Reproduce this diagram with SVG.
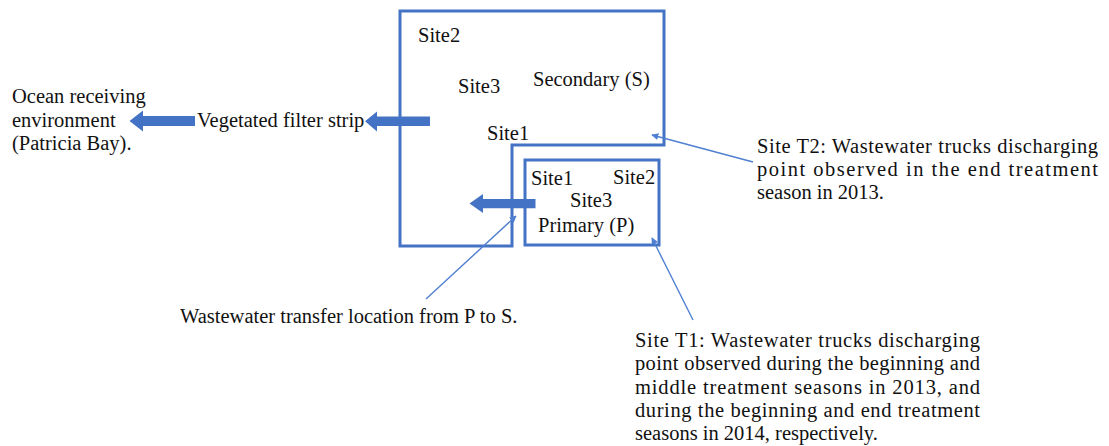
<svg xmlns="http://www.w3.org/2000/svg" width="1109" height="446" viewBox="0 0 1109 446">
  <style>
    .lbl { font-family: "Liberation Serif", "Times New Roman", serif; font-size: 20.5px; fill: #111; }
    .box { fill: none; stroke: #4472C4; stroke-width: 3; }
    .flow { fill: #4472C4; }
    .lead { stroke: #4F7FD0; stroke-width: 1.4; fill: none; marker-end: url(#tip); }
  </style>
  <defs>
    <marker id="tip" viewBox="0 0 10 10" refX="9" refY="5" markerWidth="7" markerHeight="7" markerUnits="userSpaceOnUse" orient="auto">
      <path d="M0,0 L10,5 L0,10 z" fill="#4F7FD0"/>
    </marker>
  </defs>

  <!-- Secondary treatment area (L-shaped outline) -->
  <g id="secondary">
    <polygon class="box" points="400,11 664,11 664,145 512,145 512,246 400,246"/>
    <text class="lbl" x="418" y="42">Site2</text>
    <text class="lbl" x="458" y="93">Site3</text>
    <text class="lbl" x="533" y="86">Secondary (S)</text>
    <text class="lbl" x="487" y="140">Site1</text>
  </g>

  <!-- Primary treatment area -->
  <g id="primary">
    <rect class="box" x="525" y="160" width="134" height="85"/>
    <text class="lbl" x="531" y="185">Site1</text>
    <text class="lbl" x="613" y="184">Site2</text>
    <text class="lbl" x="570" y="207">Site3</text>
    <text class="lbl" x="538" y="232">Primary (P)</text>
  </g>

  <!-- Downstream labels -->
  <g id="filter-strip">
    <text class="lbl" x="197" y="127">Vegetated filter strip</text>
  </g>
  <g id="ocean">
    <text class="lbl" x="12" y="103">Ocean receiving</text>
    <text class="lbl" x="12" y="127">environment</text>
    <text class="lbl" x="12" y="150">(Patricia Bay).</text>
  </g>

  <!-- Callout texts -->
  <g id="transfer-note">
    <text class="lbl" x="180" y="323">Wastewater transfer location from P to S.</text>
  </g>
  <g id="t2-note">
    <text class="lbl" x="757" y="153" textLength="341" lengthAdjust="spacing">Site T2: Wastewater trucks discharging</text>
    <text class="lbl" x="757" y="176" textLength="341" lengthAdjust="spacing">point observed in the end treatment</text>
    <text class="lbl" x="757" y="199">season in 2013.</text>
  </g>
  <g id="t1-note">
    <text class="lbl" x="635" y="347" textLength="345" lengthAdjust="spacing">Site T1: Wastewater trucks discharging</text>
    <text class="lbl" x="635" y="370" textLength="345" lengthAdjust="spacing">point observed during the beginning and</text>
    <text class="lbl" x="635" y="394" textLength="345" lengthAdjust="spacing">middle treatment seasons in 2013, and</text>
    <text class="lbl" x="635" y="417" textLength="345" lengthAdjust="spacing">during the beginning and end treatment</text>
    <text class="lbl" x="635" y="440">seasons in 2014, respectively.</text>
  </g>

  <!-- Connectors: block flow arrows and callout leaders -->
  <g id="connectors">
    <path class="flow" d="M195,116 L143,116 L143,110.5 L129.5,121 L143,131.5 L143,126 L195,126 z"/>
    <path class="flow" d="M430,116.5 L377,116.5 L377,111.5 L365,121.3 L377,131.5 L377,126 L430,126 z"/>
    <path class="flow" d="M535.5,199 L483,199 L483,194 L469.5,203.6 L483,213 L483,208.3 L535.5,208.3 z"/>
    <line class="lead" x1="753" y1="162" x2="652" y2="135"/>
    <line class="lead" x1="693" y1="320" x2="652" y2="238"/>
    <line class="lead" x1="426" y1="299" x2="516" y2="216"/>
  </g>
</svg>
